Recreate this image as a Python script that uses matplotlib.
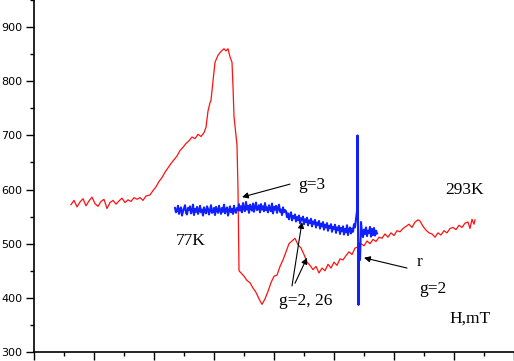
import matplotlib.pyplot as plt
from matplotlib.ticker import MultipleLocator

# 293K spectrum (red)
h_293 = [37, 40, 43, 46, 49, 52, 55, 58, 61, 64, 67, 70, 73, 76, 79, 82, 85, 88, 91, 94, 97, 100,
         103, 106, 109, 112, 116, 119, 122, 125, 128, 131, 134, 137, 140, 143, 146,
         149, 152, 155, 158, 161, 164, 167, 170,
         172, 174, 176, 177, 179, 181, 184, 187, 190, 192, 194, 196, 198, 199, 200, 202, 203, 204, 204.5, 205,
         207, 210, 213, 216, 219, 222, 225, 228, 231, 234, 237, 240, 243, 246, 249, 252, 255, 258, 261,
         264, 267, 270, 273, 276, 279, 282, 285, 288, 291, 294, 297, 300, 303, 306, 309, 312, 315, 318,
         321, 324, 327, 330, 333, 336, 339, 342, 345, 348, 351, 354, 357, 360, 363, 366, 369, 372, 375,
         378, 381, 384, 386, 389, 392, 395, 398, 401, 404, 407, 410, 413, 416, 419, 422, 425, 428, 431,
         434, 436, 438, 440, 441]
i_293 = [572, 580, 568, 577, 583, 570, 579, 586, 574, 569, 578, 582, 565, 576, 580, 573, 579, 584, 576, 581, 578, 585,
         582, 585, 580, 588, 590, 598, 605, 615, 622, 632, 640, 648, 655, 662, 672,
         678, 685, 690, 697, 694, 702, 698, 705,
         715, 745, 760, 765, 800, 835, 848, 855, 860, 856, 860, 845, 835, 790, 735, 700, 682, 600, 520, 450,
         446, 440, 432, 428, 418, 410, 398, 388, 398, 412, 428, 440, 442, 458, 470, 485, 500, 505, 510,
         498, 492, 480, 466, 460, 452, 458, 446, 455, 450, 462, 455, 466, 460, 472, 470, 478, 485, 480,
         492, 494, 500, 496, 505, 500, 508, 504, 512, 510, 518, 512, 520, 515, 524, 522, 528, 532, 536,
         530, 540, 544, 542, 532, 525, 520, 518, 512, 520, 516, 524, 520, 528, 530, 526, 534, 530, 538,
         540, 528, 545, 536, 544]

# 77K spectrum (blue)
h_77 = (list(range(141, 323))
        + [323, 323.5, 324, 324.5, 325, 326, 327, 328]
        + list(range(329, 344)))
i_77 = [566, 558, 561, 570, 555, 563, 567, 552, 560, 565, 571, 557, 554, 566, 562, 569, 556, 560, 572, 553,
        564, 559, 568, 555, 561, 570, 558, 563, 552, 567, 560, 556, 569, 564, 554, 562, 571, 557, 559, 566,
        553, 568, 561, 557, 570, 562, 555, 566, 559, 572, 556, 563, 567, 552, 561, 569, 558, 564, 555, 570,
        560, 557, 566, 562, 573,
        561, 569, 558, 575, 564, 560, 577, 563, 570, 557, 572, 566, 561, 574, 559, 568, 576, 562, 565, 571,
        558, 573, 563, 569, 560,
        575, 562, 567, 558, 571, 564, 560, 574, 556, 568, 563, 570, 557, 566, 572, 559, 563, 553, 567, 558, 562,
        560, 549, 556, 545, 553, 558, 543, 551, 547, 554, 541, 549, 544, 552, 538, 547, 543, 550, 536, 545,
        540, 548, 534, 543, 538, 546, 532, 541, 537,
        544, 530, 539, 535, 542, 528, 537, 532, 540, 526, 535, 530, 538, 524, 533, 529, 536, 522, 531, 527,
        535, 520, 530, 525, 533,
        518, 529, 523, 532, 517, 527, 521, 534, 516, 526, 530, 519, 528, 522, 536, 530, 545,
        560, 700, 540, 387, 500, 470, 540, 520,
        512, 526, 518, 530, 514, 524, 520, 531, 513, 527, 516, 529, 515, 524, 519]

y_ticks = [300, 400, 500, 600, 700, 800, 900]

fig = plt.figure(figsize=(5.14, 3.61), dpi=100)
ax = fig.add_axes([34 / 514, 9 / 361, 480 / 514, 352 / 361])

ax.plot(h_293, i_293, color='#ff1010', lw=0.9)
ax.plot(h_77, i_77, color='#1020ff', lw=1.5)

ax.set_xlim(0, 480)
ax.set_ylim(300, 950)
ax.xaxis.set_major_locator(MultipleLocator(60))
ax.xaxis.set_minor_locator(MultipleLocator(30))
ax.set_yticks(y_ticks)
ax.yaxis.set_minor_locator(MultipleLocator(50))
ax.set_xticklabels([])
ax.tick_params(axis='both', which='major', direction='out', length=5.5, width=1, labelsize=8, pad=3)
ax.tick_params(axis='both', which='minor', direction='out', length=3, width=1)
for s in ['top', 'right']:
    ax.spines[s].set_visible(False)
for s in ['left', 'bottom']:
    ax.spines[s].set_linewidth(1.2)

serif = dict(family='Liberation Serif', fontsize=12.5, ha='center', va='center')
arrow = dict(arrowstyle='-|>', color='black', lw=0.8, mutation_scale=9, shrinkA=0, shrinkB=0)

ax.text(278, 608, 'g=3', **serif)
ax.annotate('', xy=(208, 586), xytext=(256, 610), arrowprops=arrow)
ax.text(157, 505, '77K', **serif)
ax.text(272, 394, 'g=2, 26', **serif)
ax.annotate('', xy=(268, 540), xytext=(258, 422), arrowprops=arrow)
ax.annotate('', xy=(273, 474), xytext=(261, 427), arrowprops=arrow)
ax.text(431, 599, '293K', **serif)
ax.text(386, 466, 'r', **serif)
ax.annotate('', xy=(330, 474), xytext=(373, 455), arrowprops=arrow)
ax.text(399, 416, 'g=2', **serif)
ax.text(436, 361, 'H,mT', **serif)

fig.savefig('out.png', dpi=100)
